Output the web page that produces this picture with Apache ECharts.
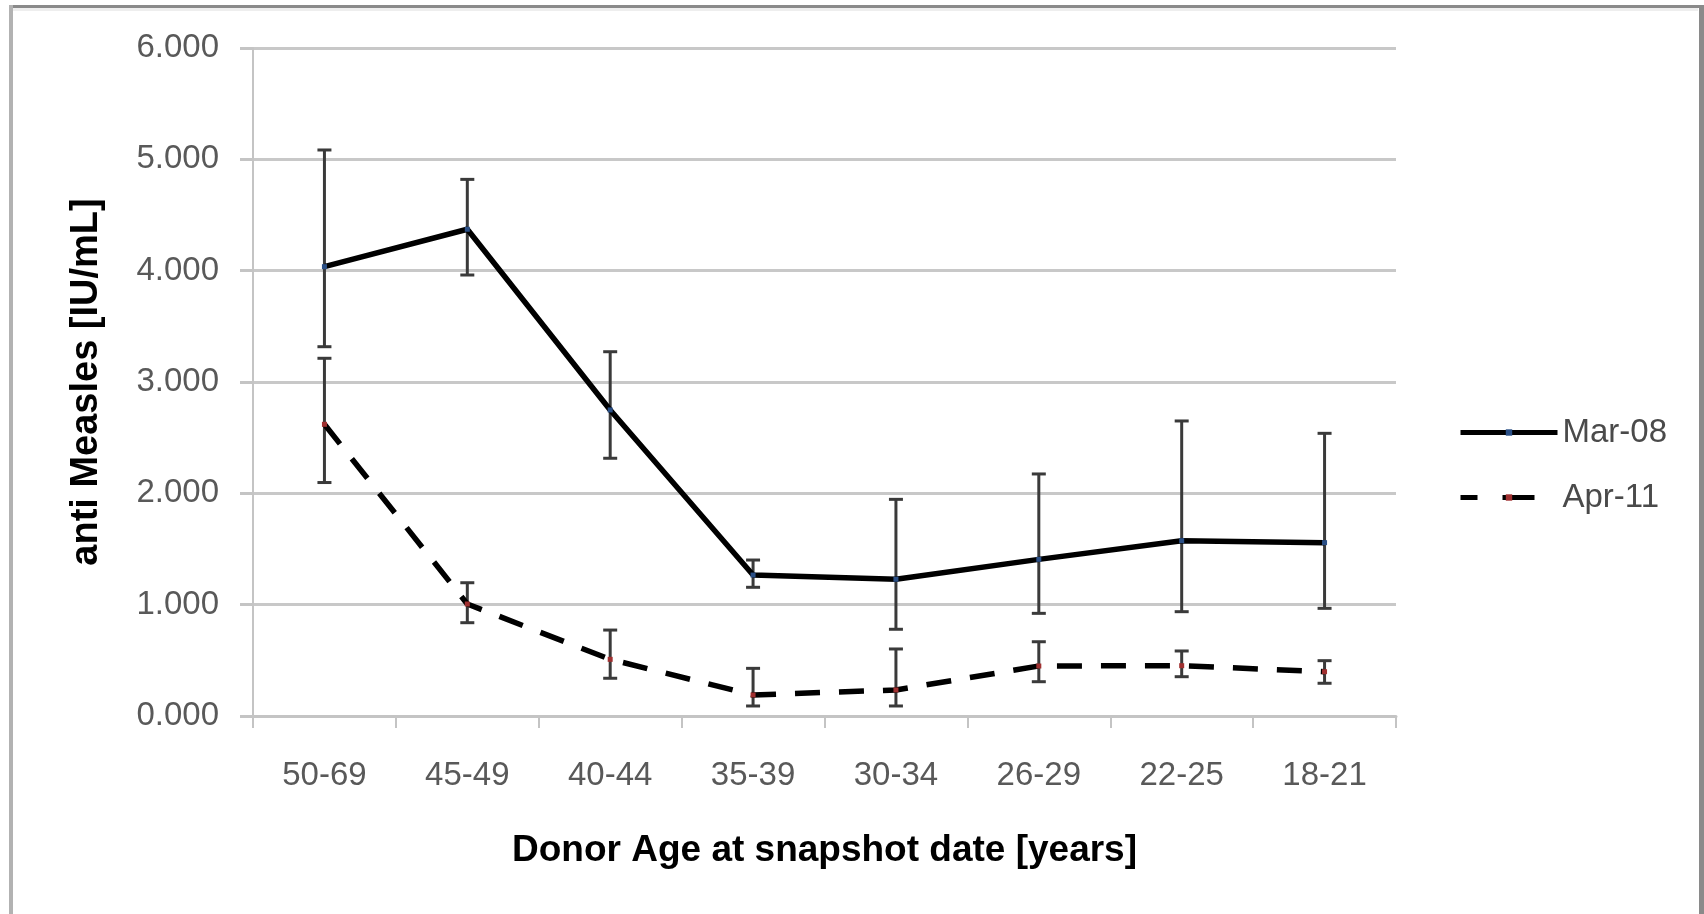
<!DOCTYPE html>
<html>
<head>
<meta charset="utf-8">
<script src="https://cdn.jsdelivr.net/npm/echarts@6/dist/echarts.min.js"></script>
<style>
html,body{margin:0;padding:0;background:#fff;}
#chart{width:1704px;height:914px;}
</style>
</head>
<body>
<div id="chart"></div>
<script>
const categories = ['50-69','45-49','40-44','35-39','30-34','26-29','22-25','18-21'];
const mar08 = [4.036, 4.372, 2.749, 1.266, 1.228, 1.407, 1.575, 1.557];
const mar08Low = [3.317, 3.961, 2.315, 1.156, 0.779, 0.922, 0.937, 0.967];
const mar08High = [5.084, 4.820, 3.272, 1.401, 1.946, 2.174, 2.650, 2.539];
const apr11 = [2.620, 1.006, 0.509, 0.189, 0.234, 0.449, 0.452, 0.398];
const apr11Low = [2.097, 0.838, 0.339, 0.090, 0.090, 0.308, 0.353, 0.294];
const apr11High = [3.213, 1.197, 0.772, 0.428, 0.602, 0.667, 0.584, 0.497];
const yTicks = [0, 1, 2, 3, 4, 5, 6];

const chart = echarts.init(document.getElementById('chart'));

function errData(low, high) {
  return categories.map((c, i) => [i, low[i], high[i]]);
}
function renderErr(params, api) {
  const x = api.value(0);
  const lo = api.coord([x, api.value(1)]);
  const hi = api.coord([x, api.value(2)]);
  const hw = 7;
  const st = {stroke: '#3a3a3a', lineWidth: 3};
  return {
    type: 'group',
    children: [
      {type: 'line', shape: {x1: lo[0], y1: lo[1], x2: hi[0], y2: hi[1]}, style: st},
      {type: 'line', shape: {x1: lo[0]-hw, y1: lo[1], x2: lo[0]+hw, y2: lo[1]}, style: st},
      {type: 'line', shape: {x1: hi[0]-hw, y1: hi[1], x2: hi[0]+hw, y2: hi[1]}, style: st}
    ]
  };
}

const font = 'Liberation Sans, Arial, sans-serif';

chart.setOption({
  animation: false,
  backgroundColor: '#ffffff',
  graphic: [
    {type: 'line', shape: {x1: 10, y1: 6.5, x2: 1704, y2: 6.5}, style: {stroke: '#8a8a8a', lineWidth: 3}, z: 100},
    {type: 'line', shape: {x1: 10, y1: 9.5, x2: 1698, y2: 9.5}, style: {stroke: '#eeeeee', lineWidth: 3}, z: 100},
    {type: 'line', shape: {x1: 1701.5, y1: 5, x2: 1701.5, y2: 914}, style: {stroke: '#8a8a8a', lineWidth: 5}, z: 100},
    {type: 'line', shape: {x1: 11, y1: 5, x2: 11, y2: 914}, style: {stroke: '#b2b2b2', lineWidth: 4}, z: 100}
  ],
  grid: {left: 253, right: 308, top: 48, bottom: 198},
  legend: {
    orient: 'vertical',
    left: 1453,
    top: 411,
    itemWidth: 97,
    itemHeight: 8,
    itemGap: 32,
    lineStyle: {width: 5},
    itemStyle: {borderWidth: 0},
    textStyle: {fontFamily: font, fontSize: 33, color: '#4a4a4a'},
    data: [
      {name: 'Mar-08'},
      {name: 'Apr-11', lineStyle: {type: [17, 25, 32, 300]}}
    ]
  },
  xAxis: {
    type: 'category',
    data: categories,
    boundaryGap: true,
    name: 'Donor Age at snapshot date [years]',
    nameLocation: 'middle',
    nameGap: 116,
    nameTextStyle: {fontFamily: font, fontSize: 37, fontWeight: 'bold', color: '#000'},
    axisLine: {lineStyle: {color: '#c4c4c4', width: 3}},
    axisTick: {show: true, length: 12, interval: 0, lineStyle: {color: '#c4c4c4', width: 2}},
    axisLabel: {fontFamily: font, fontSize: 33, color: '#595959', margin: 43, interval: 0}
  },
  yAxis: {
    type: 'value',
    min: 0,
    max: 6,
    interval: 1,
    name: 'anti Measles [IU/mL]',
    nameLocation: 'middle',
    nameGap: 147,
    nameTextStyle: {fontFamily: font, fontSize: 38, fontWeight: 'bold', color: '#000'},
    axisLine: {show: true, lineStyle: {color: '#c4c4c4', width: 2}},
    axisTick: {show: true, length: 13, lineStyle: {color: '#c4c4c4', width: 3}},
    splitLine: {lineStyle: {color: '#c8c8c8', width: 3}},
    axisLabel: {fontFamily: font, fontSize: 33, color: '#595959', margin: 34,
      formatter: v => yTicks.indexOf(v) >= 0 ? v.toFixed(3) : ''}
  },
  series: [
    {type: 'custom', name: 'errMar', data: errData(mar08Low, mar08High), renderItem: renderErr, z: 1, silent: true},
    {type: 'custom', name: 'errApr', data: errData(apr11Low, apr11High), renderItem: renderErr, z: 1, silent: true},
    {
      type: 'line', name: 'Mar-08', data: mar08, z: 3,
      symbol: 'rect', symbolSize: 5, showSymbol: true,
      itemStyle: {color: '#2a4f86'},
      lineStyle: {color: '#000', width: 5.5, type: 'solid'}
    },
    {
      type: 'line', name: 'Apr-11', data: apr11, z: 3,
      symbol: 'rect', symbolSize: 5, showSymbol: true,
      itemStyle: {color: '#a03030'},
      lineStyle: {color: '#000', width: 5.5, type: [25, 19]}
    }
  ]
});
</script>
</body>
</html>
